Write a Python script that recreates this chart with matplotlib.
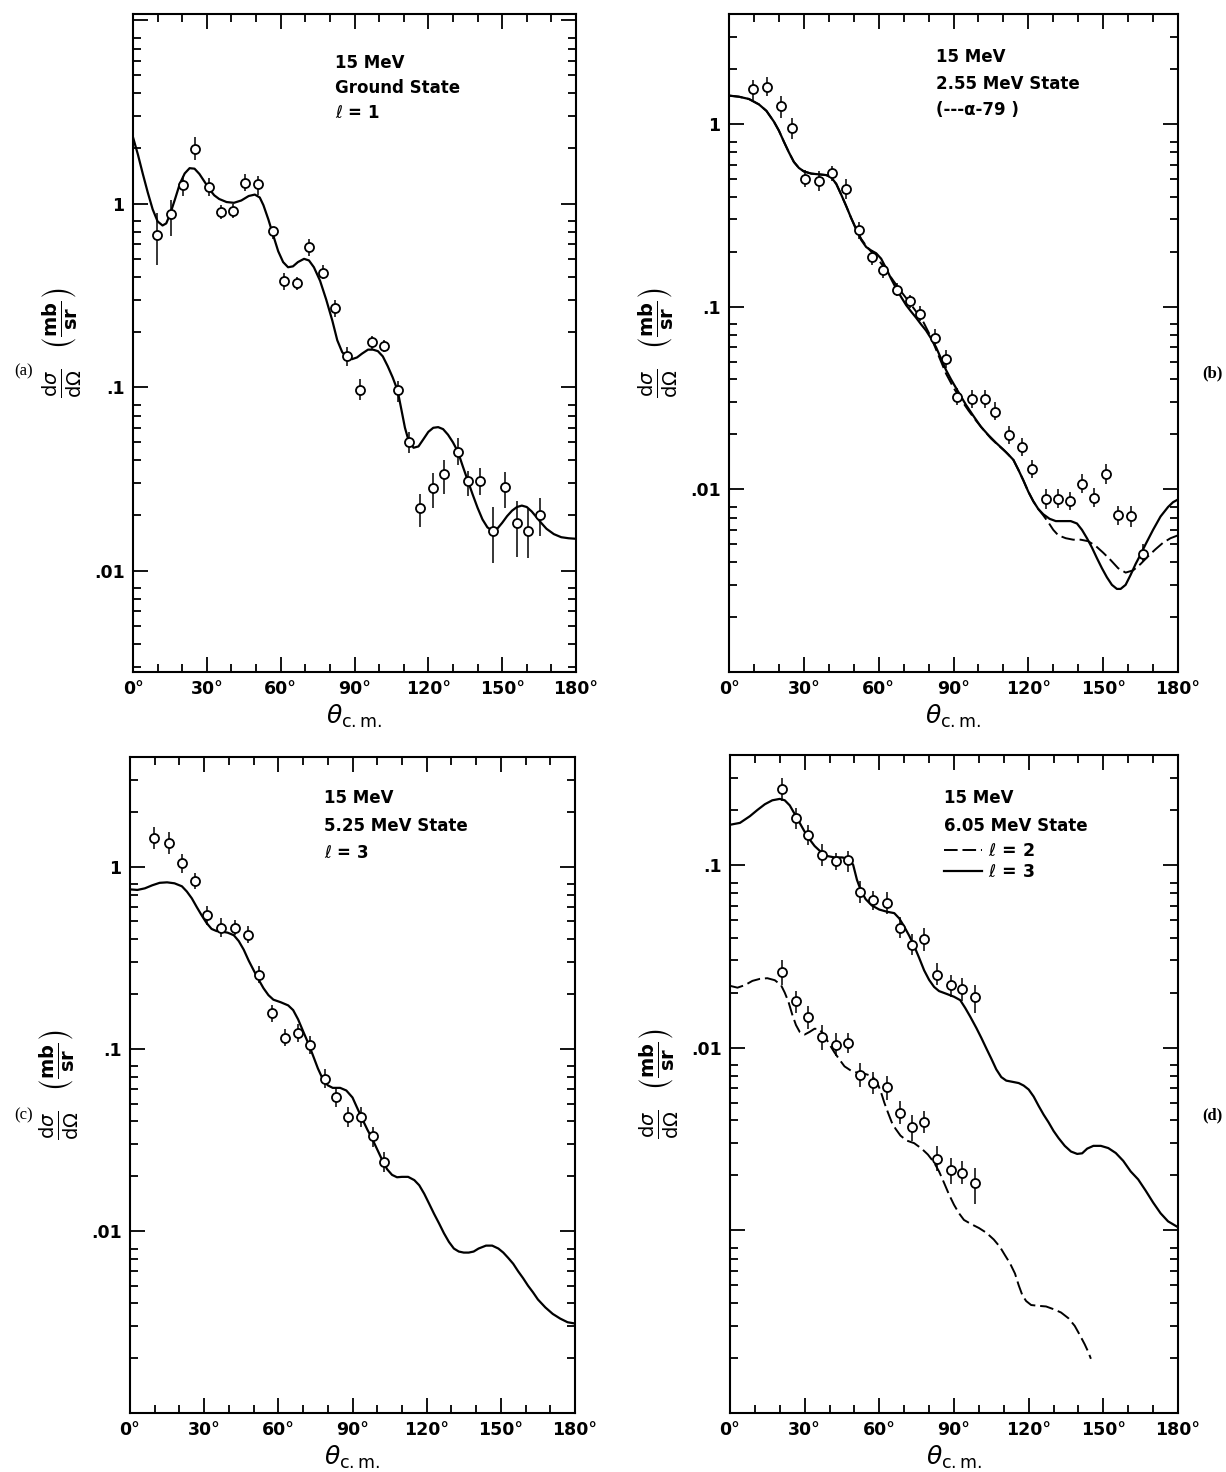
import numpy as np
import matplotlib
matplotlib.use('Agg')
import matplotlib.pyplot as plt
from matplotlib.ticker import LogLocator, NullFormatter, MultipleLocator

plt.rcParams['font.family'] = 'DejaVu Sans'
plt.rcParams['mathtext.fontset'] = 'dejavusans'

#### Data (angle in deg, dsigma/dOmega in mb/sr)

# (a) ground state, l=1
a_ang = [9.8, 15.3, 20.2, 25.2, 30.7, 35.7, 40.5, 45.6, 50.9, 56.7, 61.2, 66.8, 71.7, 77.1, 81.9, 86.8,
         92.2, 97.2, 101.9, 107.5, 112.3, 116.8, 121.8, 126.5, 132.1, 136.1, 141.1, 146.3, 151.1, 156.1, 160.3, 165.4]
a_val = [0.674, 0.883, 1.26, 1.98, 1.23, 0.90, 0.91, 1.30, 1.28, 0.71, 0.38, 0.37, 0.58, 0.42, 0.27, 0.148,
         0.096, 0.176, 0.167, 0.097, 0.050, 0.0218, 0.0281, 0.0335, 0.0443, 0.0306, 0.0306, 0.0165, 0.0286, 0.0182, 0.0165, 0.0201]
a_lo = [0.463, 0.665, 1.10, 1.72, 1.10, 0.82, 0.84, 1.17, 1.12, 0.64, 0.34, 0.34, 0.52, 0.39, 0.24, 0.13,
        0.085, 0.16, 0.155, 0.083, 0.044, 0.0172, 0.0220, 0.0263, 0.0377, 0.0254, 0.0259, 0.0110, 0.0219, 0.0118, 0.0117, 0.0154]
a_hi = [0.89, 1.05, 1.41, 2.30, 1.38, 0.98, 0.99, 1.45, 1.42, 0.75, 0.42, 0.40, 0.64, 0.46, 0.30, 0.165,
        0.11, 0.19, 0.18, 0.108, 0.057, 0.026, 0.034, 0.040, 0.053, 0.0349, 0.036, 0.0221, 0.0346, 0.0238, 0.0216, 0.0249]
a_fit_ang = [0, 2, 4, 6, 8, 10, 12, 13.5, 15, 17, 19, 21, 23, 25, 27, 29, 31, 33, 35, 38, 41, 44, 47, 49.5,
             51.5, 53, 55, 57, 59, 61, 63, 65, 67, 69.5, 71.5, 73.5, 76, 78.5, 81, 83, 85, 87, 89, 91, 93,
             95.5, 97.5, 99.5, 101.5, 103.5, 105.5, 107.5, 109, 110.5, 112, 114, 116, 118, 120, 122, 124,
             126, 128, 130, 132, 134, 136, 138, 140, 142, 144, 146, 148, 150, 152, 154, 156, 158, 160, 162,
             164, 166, 168, 171, 174, 177, 180]
a_fit = [2.3, 1.85, 1.45, 1.15, 0.93, 0.80, 0.76, 0.78, 0.87, 1.05, 1.28, 1.46, 1.56, 1.55, 1.45, 1.32, 1.20,
         1.11, 1.06, 1.02, 1.01, 1.04, 1.10, 1.12, 1.08, 0.98, 0.82, 0.67, 0.55, 0.48, 0.45, 0.455, 0.48, 0.50,
         0.49, 0.45, 0.38, 0.30, 0.23, 0.18, 0.155, 0.145, 0.142, 0.145, 0.152, 0.16, 0.16, 0.157, 0.147, 0.13,
         0.113, 0.096, 0.076, 0.060, 0.051, 0.0467, 0.0475, 0.052, 0.057, 0.060, 0.0605, 0.059, 0.055, 0.050,
         0.0445, 0.037, 0.031, 0.026, 0.022, 0.019, 0.0172, 0.0165, 0.0169, 0.0182, 0.0198, 0.0212, 0.0222,
         0.0226, 0.0222, 0.0210, 0.0195, 0.0181, 0.0169, 0.0158, 0.0152, 0.0150, 0.0149]

# (b) 2.55 MeV state
b_ang = [9.7, 15.3, 21.0, 25.3, 30.6, 36.0, 41.3, 46.8, 52.2, 57.2, 61.6, 67.2, 72.6, 76.6, 82.4, 86.8,
         91.5, 97.3, 102.6, 106.6, 112.1, 117.4, 121.5, 127.0, 132.0, 136.7, 141.7, 146.5, 151.2, 156.1, 161.1, 165.8]
b_val = [1.55, 1.60, 1.25, 0.95, 0.50, 0.49, 0.54, 0.44, 0.262, 0.186, 0.158, 0.124, 0.107, 0.0916, 0.0675, 0.0516,
         0.0321, 0.0313, 0.0313, 0.0266, 0.0198, 0.0170, 0.0129, 0.0088, 0.0089, 0.0086, 0.0107, 0.0090, 0.0121,
         0.0072, 0.0071, 0.00445]
b_lo = [1.35, 1.42, 1.08, 0.83, 0.45, 0.43, 0.49, 0.39, 0.235, 0.168, 0.143, 0.114, 0.098, 0.083, 0.061, 0.046,
        0.029, 0.028, 0.028, 0.024, 0.0178, 0.0152, 0.0115, 0.0078, 0.0079, 0.0077, 0.0095, 0.0080, 0.0107,
        0.0064, 0.0062, 0.0040]
b_hi = [1.75, 1.80, 1.42, 1.08, 0.56, 0.55, 0.59, 0.50, 0.29, 0.205, 0.175, 0.134, 0.116, 0.101, 0.075, 0.058,
        0.036, 0.035, 0.035, 0.030, 0.0222, 0.0190, 0.0145, 0.0100, 0.0101, 0.0097, 0.0121, 0.0102, 0.0137,
        0.0081, 0.0081, 0.0050]
b_fit_ang = [0, 4, 8, 12, 15, 18, 20, 22, 24, 26, 28, 30, 33, 36, 39, 41, 43, 45, 47, 49, 51, 53, 55, 57, 59,
             61, 63, 65, 67, 69, 71, 73, 75, 77, 79, 81, 83, 85, 87, 89, 92, 95, 98, 101, 104, 107, 110, 112,
             114, 116, 118, 120, 122, 124, 126, 128.5, 131, 134, 137, 139.5, 141.5, 143.5, 145.5, 147.5, 149.5,
             151.5, 153.5, 155.5, 157, 159, 161, 163, 165, 167, 170, 173, 176, 178, 180]
b_fit = [1.43, 1.41, 1.37, 1.28, 1.18, 1.03, 0.92, 0.80, 0.70, 0.62, 0.575, 0.55, 0.535, 0.53, 0.525, 0.51,
         0.47, 0.41, 0.355, 0.305, 0.265, 0.232, 0.212, 0.203, 0.196, 0.183, 0.162, 0.142, 0.126, 0.113, 0.102,
         0.094, 0.087, 0.080, 0.074, 0.067, 0.060, 0.052, 0.045, 0.040, 0.034, 0.029, 0.0252, 0.022, 0.0198,
         0.018, 0.0165, 0.0155, 0.0145, 0.0128, 0.0112, 0.0097, 0.0086, 0.0078, 0.0073, 0.0069, 0.0067, 0.0067,
         0.0067, 0.0065, 0.0060, 0.0054, 0.0048, 0.0042, 0.0037, 0.0033, 0.0030, 0.00285, 0.00285, 0.0030,
         0.0034, 0.0039, 0.0044, 0.0050, 0.0060, 0.0071, 0.0080, 0.0085, 0.0088]
b_alt_ang = [0, 4, 8, 12, 15, 18, 20, 22, 24, 26, 28, 30, 33, 36, 39, 41, 43, 45, 47, 49, 51, 53, 55, 57, 60,
             63, 66, 69, 72, 75, 78, 81, 84, 87, 90, 93, 96, 99, 102, 105, 108, 111, 114, 116, 118, 120, 122,
             124, 126, 128, 130, 132, 135, 138, 141, 144, 147, 150, 153, 156, 159, 162, 165, 168, 171, 174, 177, 180]
b_alt = [1.43, 1.41, 1.37, 1.28, 1.18, 1.03, 0.92, 0.80, 0.70, 0.62, 0.575, 0.55, 0.535, 0.53, 0.525, 0.51,
         0.47, 0.41, 0.355, 0.305, 0.265, 0.235, 0.215, 0.200, 0.180, 0.158, 0.138, 0.121, 0.107, 0.094, 0.082,
         0.068, 0.054, 0.043, 0.036, 0.031, 0.027, 0.0238, 0.0212, 0.0190, 0.0174, 0.0160, 0.0145, 0.0128,
         0.0112, 0.0097, 0.0086, 0.0078, 0.0072, 0.0066, 0.0060, 0.0056, 0.0054, 0.0053, 0.0053, 0.0052,
         0.0049, 0.0045, 0.0041, 0.0037, 0.0035, 0.0036, 0.0039, 0.0043, 0.0047, 0.0051, 0.0054, 0.0056]

# (c) 5.25 MeV state, l=3
c_ang = [9.6, 15.9, 21.2, 26.4, 31.1, 36.9, 42.3, 47.6, 52.3, 57.4, 62.5, 67.8, 72.9, 78.7, 83.2, 88.2, 93.3, 98.1, 102.8]
c_val = [1.44, 1.35, 1.05, 0.83, 0.54, 0.46, 0.46, 0.42, 0.255, 0.157, 0.115, 0.122, 0.105, 0.0684, 0.0543,
         0.0421, 0.0421, 0.033, 0.024]
c_lo = [1.25, 1.18, 0.92, 0.75, 0.48, 0.41, 0.42, 0.38, 0.23, 0.14, 0.103, 0.109, 0.094, 0.061, 0.048, 0.037,
        0.037, 0.029, 0.021]
c_hi = [1.65, 1.55, 1.18, 0.92, 0.61, 0.52, 0.51, 0.47, 0.285, 0.175, 0.128, 0.137, 0.117, 0.077, 0.061, 0.048,
        0.048, 0.037, 0.027]
c_fit_ang = [0, 3, 6, 9, 12, 15, 18, 21, 23, 25, 27, 29, 31, 33, 35, 37, 39.5, 42, 44, 46, 48, 50, 52, 54, 56,
             58, 61, 64, 66, 68, 70, 72, 74, 76, 78, 80, 82, 85, 87.5, 90, 92, 94, 96, 98, 100, 102, 104, 106,
             108, 110, 112.5, 115, 117, 119, 121, 123, 125, 127, 129, 131, 133, 135, 137, 139, 141, 144, 146.5,
             149, 151, 153, 155, 157, 159, 161, 163, 165, 168, 171, 174, 177, 180]
c_fit = [0.75, 0.745, 0.76, 0.79, 0.815, 0.82, 0.81, 0.78, 0.73, 0.67, 0.60, 0.54, 0.49, 0.455, 0.443, 0.44,
         0.434, 0.42, 0.39, 0.35, 0.305, 0.27, 0.24, 0.215, 0.197, 0.186, 0.18, 0.173, 0.163, 0.145, 0.125,
         0.108, 0.092, 0.078, 0.068, 0.063, 0.061, 0.061, 0.059, 0.054, 0.047, 0.041, 0.036, 0.032, 0.028,
         0.0245, 0.0218, 0.0203, 0.0197, 0.0198, 0.0198, 0.019, 0.0178, 0.0160, 0.0141, 0.0124, 0.0110,
         0.0097, 0.0087, 0.0080, 0.0077, 0.0076, 0.0076, 0.0077, 0.0080, 0.0083, 0.0083, 0.0080, 0.0076,
         0.0071, 0.0066, 0.0060, 0.0055, 0.0050, 0.0046, 0.0042, 0.0038, 0.0035, 0.0033, 0.00315, 0.0031]

# (d) 6.05 MeV state, l=3 (upper) and l=2 (lower)
d_ang = [20.8, 26.4, 31.5, 37.0, 42.5, 47.6, 52.3, 57.5, 62.9, 68.4, 73.1, 78.1, 83.2, 88.7, 93.4, 98.5]
d3_val = [0.259, 0.180, 0.146, 0.114, 0.105, 0.106, 0.0715, 0.0643, 0.062, 0.0452, 0.0366, 0.0392, 0.025,
          0.0219, 0.0209, 0.0189]
d3_lo = [0.225, 0.158, 0.128, 0.099, 0.094, 0.092, 0.062, 0.057, 0.054, 0.040, 0.032, 0.034, 0.022, 0.019,
         0.018, 0.0155]
d3_hi = [0.30, 0.205, 0.166, 0.130, 0.117, 0.120, 0.082, 0.072, 0.071, 0.052, 0.042, 0.045, 0.029, 0.025,
         0.024, 0.022]
d2_val = [0.0258, 0.0179, 0.0147, 0.0114, 0.0104, 0.0106, 0.00706, 0.00641, 0.0061, 0.0044, 0.00366, 0.00391,
          0.00247, 0.00215, 0.00206, 0.00182]
d2_lo = [0.022, 0.0155, 0.0126, 0.0097, 0.0090, 0.0093, 0.0061, 0.0056, 0.0052, 0.0038, 0.0031, 0.0034,
         0.0021, 0.0018, 0.0018, 0.0014]
d2_hi = [0.030, 0.0205, 0.0170, 0.0133, 0.0120, 0.0120, 0.0082, 0.0074, 0.0070, 0.0051, 0.0043, 0.0045,
         0.0029, 0.0025, 0.0024, 0.0022]
d3_fit_ang = [0, 4, 8, 11, 14, 17, 20, 22, 24, 26, 28, 30, 32, 34, 36.5, 39, 42, 45, 48, 49.5, 51, 52.5, 54.5,
              57, 60, 63, 66, 68, 70, 72, 74, 76, 78, 80, 82, 84, 87, 90, 92.5, 94.5, 96.5, 99, 101, 103, 105,
              107, 109, 111, 113.5, 116, 118, 120, 122, 124, 126, 128, 130, 132, 134.5, 137, 139.5, 141.5,
              143.5, 146, 149, 152, 155, 158, 161, 164, 167, 170, 173, 176, 180]
d3_fit = [0.166, 0.170, 0.185, 0.200, 0.215, 0.226, 0.230, 0.226, 0.212, 0.190, 0.170, 0.152, 0.138, 0.127,
          0.118, 0.112, 0.110, 0.110, 0.108, 0.100, 0.083, 0.073, 0.065, 0.060, 0.057, 0.0555, 0.0545, 0.051,
          0.046, 0.041, 0.036, 0.031, 0.0265, 0.0235, 0.0215, 0.0204, 0.0197, 0.019, 0.0182, 0.0165, 0.0148,
          0.0128, 0.0113, 0.0099, 0.0087, 0.0076, 0.0069, 0.0066, 0.0065, 0.0064, 0.0062, 0.0059, 0.0054,
          0.0048, 0.0043, 0.0039, 0.0035, 0.0032, 0.0029, 0.0027, 0.00262, 0.00264, 0.0028, 0.0029, 0.0029,
          0.00282, 0.00265, 0.0024, 0.0021, 0.0019, 0.00165, 0.00142, 0.00124, 0.00112, 0.00104]
d2_fit_ang = [0, 3, 6, 9, 12, 15, 18, 20.5, 22, 23.5, 25, 26.5, 28, 30, 32, 34, 36, 38, 40, 42, 44, 46, 48.5,
              51, 54, 57, 59, 60.5, 62, 63.5, 65, 66.5, 68.5, 71, 74, 77, 79.5, 82, 84, 86, 88, 90, 92, 94, 97,
              100, 103, 106, 108.5, 110.5, 112.5, 114.5, 116, 117.5, 119, 121, 124, 127, 130, 133, 136, 138.5,
              140.5, 142.5, 144, 145]
d2_fit = [0.0218, 0.0213, 0.0220, 0.0232, 0.0238, 0.0240, 0.0234, 0.022, 0.020, 0.0178, 0.0152, 0.0133,
          0.0122, 0.0118, 0.0122, 0.0127, 0.0126, 0.0116, 0.0104, 0.0094, 0.0086, 0.0079, 0.0075, 0.0073,
          0.0072, 0.0070, 0.0065, 0.0058, 0.0050, 0.0044, 0.0039, 0.0036, 0.0033, 0.0031, 0.0030, 0.0028,
          0.0026, 0.00235, 0.0021, 0.00182, 0.00157, 0.00138, 0.00124, 0.00114, 0.00108, 0.00103, 0.00097,
          0.00089, 0.00081, 0.00073, 0.00066, 0.00058, 0.00050, 0.00044, 0.00041, 0.00039, 0.000386,
          0.000383, 0.00037, 0.000355, 0.00033, 0.000300, 0.000268, 0.000238, 0.000215, 0.000198]

W, H = 1226, 1472

def px_box(x0, x1, y0, y1):
    return [x0/W, 1-y1/H, (x1-x0)/W, (y1-y0)/H]

def style_axes(ax, ylim, decades, dec_labels):
    ax.set_yscale('log')
    ax.set_xlim(0, 180)
    ax.set_ylim(*ylim)
    ax.set_xticks(range(0, 181, 30), [str(a)+'°' for a in range(0, 181, 30)])
    ax.xaxis.set_minor_locator(MultipleLocator(10))
    ax.set_yticks(decades, dec_labels)
    ax.yaxis.set_minor_locator(LogLocator(base=10, subs=(2, 3, 4, 5, 6, 7, 8), numticks=20))
    ax.yaxis.set_minor_formatter(NullFormatter())
    ax.tick_params(which='both', direction='in', top=True, right=True, width=1.3)
    ax.tick_params(which='major', length=11, labelsize=12.5, pad=6)
    ax.tick_params(which='minor', length=5.5)
    for lab in ax.get_xticklabels() + ax.get_yticklabels():
        lab.set_fontweight('bold')
    for sp in ax.spines.values():
        sp.set_linewidth(1.5)
    ax.set_xlabel(r'$\theta_{\rm c.m.}$', fontsize=18, labelpad=3)
    ax.set_ylabel(r'$\frac{\mathrm{d}\sigma}{\mathrm{d}\Omega}$  '
                  r'$\left(\frac{\mathbf{mb}}{\mathbf{sr}}\right)$', fontsize=20)
    ax.yaxis.set_label_coords(-0.11, 0.5)

def data_points(ax, ang, val, lo, hi):
    val = np.array(val)
    yerr = [val - np.array(lo), np.array(hi) - val]
    ax.errorbar(ang, val, yerr=yerr, fmt='o', ms=6.5, mfc='white', mec='black', mew=1.3,
                ecolor='black', elinewidth=1.1, capsize=0, zorder=3)

def notes(ax, x, ys, lines):
    for y, s in zip(ys, lines):
        ax.text(x, y, s, transform=ax.transAxes, fontsize=12, fontweight='bold', va='center', ha='left')

dash = (0, (7, 2.5))

fig = plt.figure(figsize=(W/100, H/100), dpi=100)

# (a)
ax = fig.add_axes(px_box(133, 576, 14, 672))
ax.plot(a_fit_ang, a_fit, color='black', lw=1.6, zorder=2)
data_points(ax, a_ang, a_val, a_lo, a_hi)
style_axes(ax, (0.0028, 10.8), [10, 1, 0.1, 0.01], ['', '1', '.1', '.01'])
notes(ax, 0.455, [0.925, 0.887, 0.849], ['15 MeV', 'Ground State', r'$\ell$ = 1'])

# (b)
ax = fig.add_axes(px_box(729, 1178, 14, 672))
ax.plot(b_fit_ang, b_fit, color='black', lw=1.6, zorder=2)
ax.plot(b_alt_ang, b_alt, color='black', lw=1.4, ls=dash, zorder=2)
data_points(ax, b_ang, b_val, b_lo, b_hi)
style_axes(ax, (0.001, 4.0), [1, 0.1, 0.01, 0.001], ['1', '.1', '.01', ''])
notes(ax, 0.46, [0.935, 0.894, 0.854], ['15 MeV', '2.55 MeV State', '(---α-79 )'])

# (c)
ax = fig.add_axes(px_box(130, 575, 757, 1413))
ax.plot(c_fit_ang, c_fit, color='black', lw=1.6, zorder=2)
data_points(ax, c_ang, c_val, c_lo, c_hi)
style_axes(ax, (0.001, 4.0), [1, 0.1, 0.01, 0.001], ['1', '.1', '.01', ''])
notes(ax, 0.437, [0.937, 0.895, 0.854], ['15 MeV', '5.25 MeV State', r'$\ell$ = 3'])

# (d)
ax = fig.add_axes(px_box(730, 1178, 755, 1413))
ax.plot(d2_fit_ang, d2_fit, color='black', lw=1.4, ls=dash, zorder=2, label=r'$\ell$ = 2')
ax.plot(d3_fit_ang, d3_fit, color='black', lw=1.6, zorder=2, label=r'$\ell$ = 3')
data_points(ax, d_ang, d3_val, d3_lo, d3_hi)
data_points(ax, d_ang, d2_val, d2_lo, d2_hi)
style_axes(ax, (0.0001, 0.4), [0.1, 0.01, 0.001, 0.0001], ['.1', '.01', '', ''])
notes(ax, 0.478, [0.935, 0.892], ['15 MeV', '6.05 MeV State'])
ax.legend(loc='upper left', bbox_to_anchor=(0.478, 0.868), frameon=False, handlelength=2.2,
          handletextpad=0.35, labelspacing=0.2, borderpad=0, borderaxespad=0,
          prop={'size': 12.5, 'weight': 'bold'})

# panel letters
fig.text(24/W, 1-371/H, '(a)', fontsize=12, family='Liberation Serif', ha='center', va='center')
fig.text(1212/W, 1-373/H, '(b)', fontsize=12, family='Liberation Serif', fontweight='bold', ha='center', va='center')
fig.text(24/W, 1-1115/H, '(c)', fontsize=12, family='Liberation Serif', ha='center', va='center')
fig.text(1212/W, 1-1115/H, '(d)', fontsize=12, family='Liberation Serif', fontweight='bold', ha='center', va='center')

fig.savefig('out.png', dpi=100)
